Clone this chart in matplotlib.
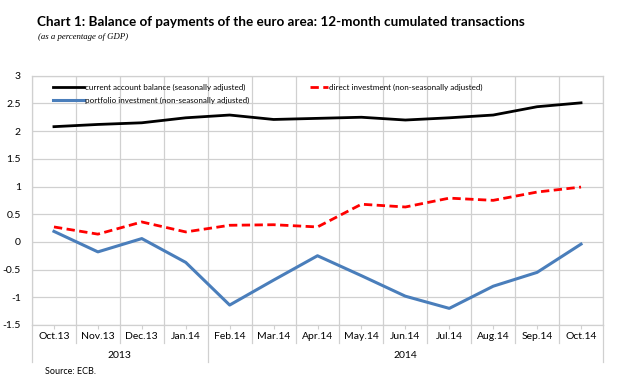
import matplotlib
matplotlib.use("Agg")
import matplotlib.pyplot as plt
from matplotlib.lines import Line2D
import matplotlib.transforms as mtransforms
import numpy as np

categories = ["Oct.13", "Nov.13", "Dec.13", "Jan.14", "Feb.14", "Mar.14", "Apr.14",
              "May.14", "Jun.14", "Jul.14", "Aug.14", "Sep.14", "Oct.14"]
years = ["2013", "2014"]
year_counts = [4, 9]
current_account = [2.08, 2.12, 2.15, 2.24, 2.29, 2.21, 2.23, 2.25, 2.20, 2.24, 2.29, 2.44, 2.51]
direct_investment = [0.27, 0.14, 0.36, 0.18, 0.30, 0.31, 0.27, 0.68, 0.63, 0.79, 0.75, 0.90, 0.99]
portfolio_investment = [0.19, -0.18, 0.06, -0.37, -1.14, -0.69, -0.25, -0.61, -0.98, -1.20, -0.80, -0.55, -0.04]
yticks = [-1.5, -1, -0.5, 0, 0.5, 1, 1.5, 2, 2.5, 3]
ytick_labels = ["-1.5", "-1", "-0.5", "0", "0.5", "1", "1.5", "2", "2.5", "3"]

FONT = ["Lato", "DejaVu Sans"]
plt.rcParams["font.family"] = FONT
GRID = "#d0d0d0"

W, H = 620, 381
fig = plt.figure(figsize=(6.2, 3.81), dpi=100)
ax = fig.add_axes([32 / W, 1 - 325 / H, (603 - 32) / W, (325 - 75.7) / H])

x = np.arange(len(categories))
ax.plot(x, current_account, color="black", lw=2.0, solid_joinstyle="round", zorder=3)
ax.plot(x, direct_investment, color="#ff0000", lw=2.0, dashes=(3, 1.6), zorder=3)
ax.plot(x, portfolio_investment, color="#4a7ebb", lw=2.2, solid_joinstyle="round", zorder=3)

ax.set_xlim(-0.5, len(categories) - 0.5)
ax.set_ylim(-1.5, 3)
ax.set_yticks(yticks)
ax.set_yticklabels(ytick_labels, fontsize=7.5)
ax.tick_params(axis="y", length=0, pad=8)
ax.set_xticks(x)
ax.set_xticklabels(categories, fontsize=7.5)
ax.tick_params(axis="x", length=0, pad=5)
ax.set_xticks(np.arange(-0.5, len(categories), 1), minor=True)
ax.grid(True, which="minor", axis="x", color=GRID, lw=0.9)
ax.grid(True, which="major", axis="y", color=GRID, lw=0.9)
ax.tick_params(which="minor", length=0)
for s in ax.spines.values():
    s.set_color(GRID)
    s.set_linewidth(0.9)

# ticks on the zero line
sec = ax.secondary_xaxis(0)
sec.set_xticks(x)
sec.set_xticklabels([])
sec.tick_params(length=3, color=GRID, direction="out")
for s in sec.spines.values():
    s.set_visible(False)

# category separators below the plot and year groups
trans = mtransforms.blended_transform_factory(ax.transData, ax.transAxes)
ax_h = (325 - 75.7)
short = -(343 - 325) / ax_h
long_ = -(362 - 325) / ax_h
bounds = np.arange(-0.5, len(categories), 1)
year_edges = np.concatenate([[0], np.cumsum(year_counts)]) - 0.5
for b in bounds:
    y1 = long_ if np.any(np.isclose(b, year_edges)) else short
    ax.plot([b, b], [0, y1], color=GRID, lw=0.9, transform=trans, clip_on=False)
for i, yr in enumerate(years):
    mid = (year_edges[i] + year_edges[i + 1]) / 2
    ax.text(mid, -(355 - 325) / ax_h, yr, transform=trans, ha="center", va="center", fontsize=7.5)

# title & subtitle
fig.text(37 / W, 1 - 22 / H, "Chart 1: Balance of payments of the euro area: 12-month cumulated transactions",
         fontsize=9.7, fontweight="bold", ha="left", va="center")
fig.text(38 / W, 1 - 37 / H, "(as a percentage of GDP)", fontsize=6.3, style="italic",
         family=["Liberation Serif", "DejaVu Serif"], ha="left", va="center")

# legend
def leg(x0, x1, y, tx, label, **kw):
    fig.add_artist(Line2D([x0 / W, x1 / W], [1 - y / H, 1 - y / H], transform=fig.transFigure, **kw))
    fig.text(tx / W, 1 - y / H, label, fontsize=5.8, ha="left", va="center")

leg(53, 84, 87, 85, "current account balance (seasonally adjusted)", color="black", lw=2.0)
leg(310, 328, 87, 329, "direct investment (non-seasonally adjusted)", color="#ff0000", lw=2.0, dashes=(3, 1.6))
leg(53, 84, 100, 85, "portfolio investment (non-seasonally adjusted)", color="#4a7ebb", lw=2.2)

fig.text(45 / W, 1 - 371 / H, "Source: ECB.", fontsize=6.5, ha="left", va="center")

fig.savefig("out.png", dpi=100)
